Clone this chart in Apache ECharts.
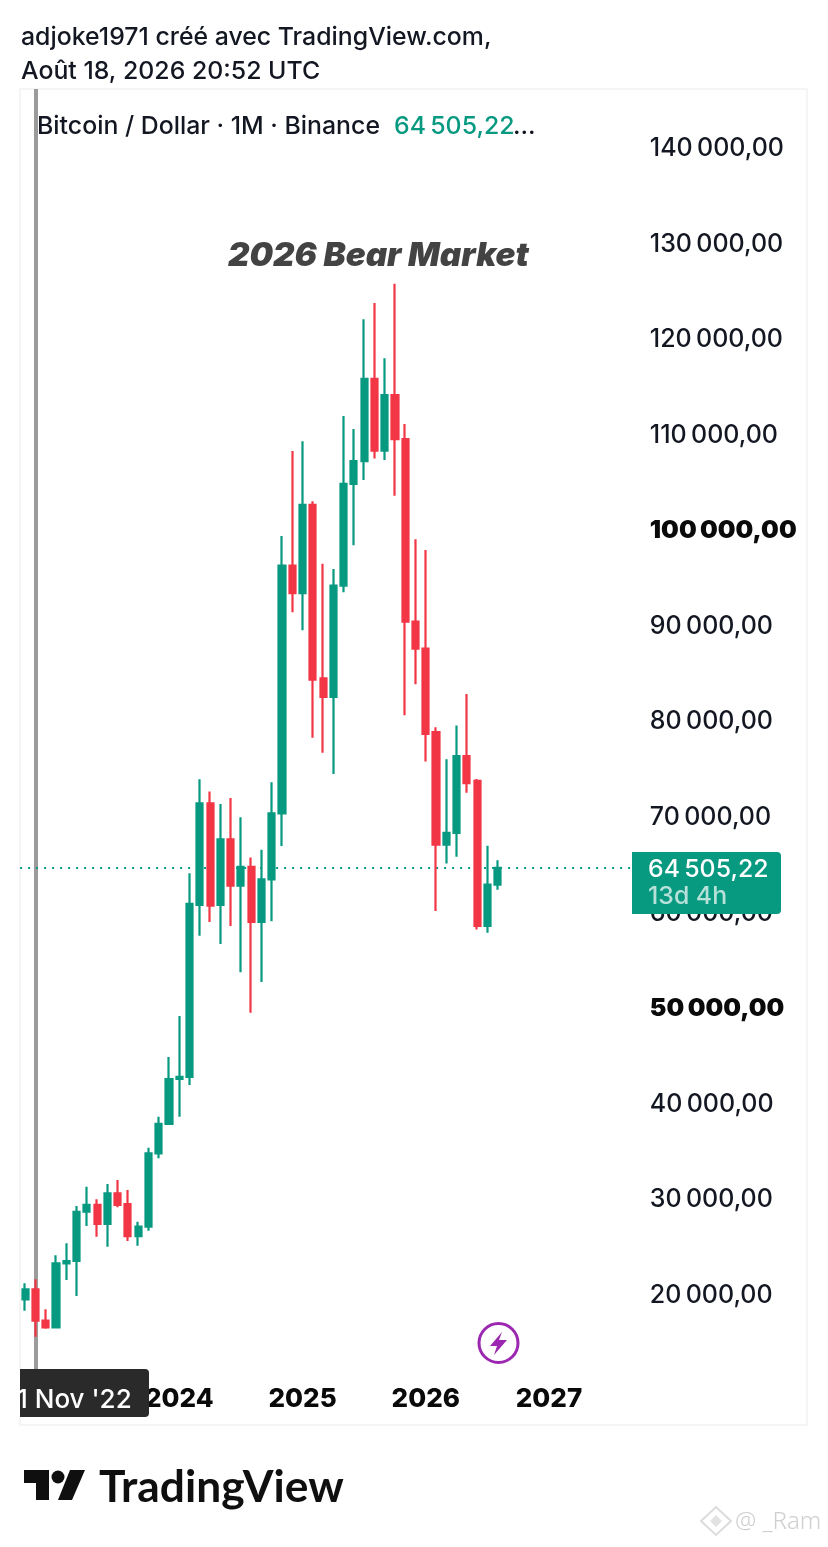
<!DOCTYPE html>
<html><head><meta charset="utf-8">
<style>html,body{margin:0;padding:0;background:#fff}#c{width:828px;height:1547px}</style>
<script src="https://cdn.jsdelivr.net/npm/echarts@6/dist/echarts.min.js"></script>
</head><body><div id="c"></div>
<script>
const categories = ['2022-10','2022-11','2022-12',
'2023-01','2023-02','2023-03','2023-04','2023-05','2023-06','2023-07','2023-08','2023-09','2023-10','2023-11','2023-12',
'2024-01','2024-02','2024-03','2024-04','2024-05','2024-06','2024-07','2024-08','2024-09','2024-10','2024-11','2024-12',
'2025-01','2025-02','2025-03','2025-04','2025-05','2025-06','2025-07','2025-08','2025-09','2025-10','2025-11','2025-12',
'2026-01','2026-02','2026-03','2026-04','2026-05','2026-06','2026-07','2026-08','2026-09','2026-10','2026-11','2026-12',
'2027-01','2027-02','2027-03','2027-04','2027-05','2027-06','2027-07','2027-08','2027-09'];
const opens = [19340,20390,17100,16410,23110,23350,28510,29220,27230,30440,29320,25940,26940,34630,37700,
42410,42620,60640,71280,60640,67510,62650,64610,58850,63320,70230,96160,
93270,102520,84370,82410,94070,104720,107100,115710,108210,114010,109400,90300,
87470,78720,66950,68170,76230,73620,58430,62760];
const closes = [20390,17100,16410,23110,23350,28510,29220,27230,30440,29220,25940,26940,34630,37700,42410,
42620,60740,71280,60560,67510,62650,64610,58850,63320,70230,96160,93270,
102520,84230,82410,94070,104720,107100,115710,108210,114010,109400,90300,87470,
78540,66950,68170,76230,73380,58430,62760,64505.22];
const lows = [18150,15420,16260,16400,21360,19690,27020,25900,24850,28970,25450,24950,26520,34110,37600,
38460,41780,57420,58850,56550,58430,53580,49350,52570,58920,66810,91280,
89400,78150,76580,74350,93380,98300,105140,107370,107230,103490,80500,83740,
75640,60000,64960,65690,72390,58050,57730,62230];
const highs = [21020,21440,18290,23950,25200,29110,31130,29810,31410,31830,30790,27470,35220,38460,44710,
49010,63950,73800,72500,71210,71840,69820,65590,66420,73480,99270,108170,
109190,102910,96370,95820,111840,110480,121970,123670,117880,125690,111000,98930,
97810,79240,75890,79410,82730,73830,66840,65310];
const yearTicks = {'2024-01':'2024','2025-01':'2025','2026-01':'2026','2027-01':'2027'};
const boldPrices = [50000,100000];
const lastPrice = 64505.22;
const crosshairMonth = '2022-11';

const UP='#089981', DOWN='#F23645', INK='#131722';
const FONT='Inter, "Noto Sans", sans-serif';
const fmt = v => String(v).replace(/\B(?=(\d{3})+$)/g,'\u2009') + ',00';
const chart = echarts.init(document.getElementById('c'),null,{renderer:'canvas'});
const txt=(x,y,s,o={})=>({type:'text',x,y,z:o.z||50,style:Object.assign({text:s,fill:INK,font:'500 24.85px '+FONT,textVerticalAlign:'middle',textBaseline:'middle'},o.style||{})});
chart.setOption({
 animation:false,backgroundColor:'#fff',
 grid:{left:20.1,width:616.2,top:89,height:1299.5,containLabel:false},
 xAxis:{type:'category',data:categories,boundaryGap:true,
  axisLine:{show:false},axisTick:{show:false},splitLine:{show:false},
  axisLabel:{interval:(i,v)=>v in yearTicks,formatter:v=>yearTicks[v]||'',color:'#0a0a0a',fontFamily:FONT,fontWeight:800,fontSize:26,margin:0,verticalAlign:'top',padding:[-2,0,0,0],hideOverlap:false}},
 yAxis:{type:'value',position:'right',min:10000,max:146070,interval:10000,
  axisLine:{show:false},axisTick:{show:false},splitLine:{show:false},
  axisLabel:{showMinLabel:false,showMaxLabel:false,margin:13.5,align:'left',verticalAlign:'middle',padding:[4,0,0,0],color:INK,fontFamily:FONT,fontSize:25,fontWeight:500,
   formatter:v=>boldPrices.includes(v)?'{b|'+fmt(v)+'}':fmt(v),
   rich:{b:{fontFamily:FONT,fontSize:25,fontWeight:900,color:'#0a0a0a'}}}},
 series:[
 {type:'line',z:1,data:[],showSymbol:false,
  markLine:{silent:true,symbol:'none',animation:false,label:{show:false},data:[
   {xAxis:crosshairMonth,lineStyle:{color:'#9b9b9b',type:'solid',width:4}}
  ]}},
 {type:'candlestick',z:5,barWidth:6.6,clip:true,
  data:opens.map((o,i)=>[o,closes[i],lows[i],highs[i]]),
  itemStyle:{color:UP,color0:DOWN,borderColor:UP,borderColor0:DOWN,borderWidth:2.2},
  markLine:{silent:true,symbol:'none',animation:false,label:{show:false},data:[
   {yAxis:lastPrice,lineStyle:{color:UP,type:[2,6],width:2}}
  ]}}],
 graphic:[
  {type:'rect',z:0,silent:true,shape:{x:20,y:89,width:787,height:1336},style:{fill:'none',stroke:'#f2f2f2',lineWidth:1.5}},
  txt(21,38,'adjoke1971 créé avec TradingView.com,'),
  txt(21,72,'Août 18, 2026 20:52 UTC'),
  txt(37,127,'Bitcoin / Dollar · 1M · Binance'),
  txt(394,127,'64\u2009505,22',{style:{fill:UP}}),
  txt(513,127,'...'),
  txt(228,256,'2026 Bear Market',{style:{fill:'#434343',font:'italic 900 33.2px '+FONT}}),
  {type:'rect',z:60,shape:{x:632,y:852,width:149,height:62,r:[0,4,4,0]},style:{fill:UP}},
  txt(648,870,'64\u2009505,22',{z:61,style:{fill:'#fff'}}),
  txt(648,897,'13d 4h',{z:61,style:{fill:'rgba(255,255,255,0.7)'}}),
  {type:'rect',z:60,shape:{x:20,y:1369,width:129,height:48,r:[0,4,4,0]},style:{fill:'#2a2a2a'}},
  txt(17,1400,"1 Nov '22",{z:61,style:{fill:'#fff',font:'500 26px '+FONT}}),
  {type:'rect',z:62,shape:{x:0,y:1369,width:20,height:48},style:{fill:'#fff'}},
  {type:'circle',z:40,shape:{cx:498.5,cy:1343,r:19.5},style:{fill:'#fff',stroke:'#9c27b0',lineWidth:3}},
  {type:'polygon',z:41,shape:{points:[[502,1332],[490,1346],[497,1346],[494,1355],[507,1340],[499,1340]]},style:{fill:'#9c27b0'}},
  {type:'polygon',z:40,shape:{points:[[24,1470],[49,1470],[49,1500],[36,1500],[36,1483],[24,1483]]},style:{fill:'#0f0f0f'}},
  {type:'circle',z:40,shape:{cx:58,cy:1477,r:6.5},style:{fill:'#0f0f0f'}},
  {type:'polygon',z:40,shape:{points:[[70,1470],[85,1470],[72,1500],[58,1500]]},style:{fill:'#0f0f0f'}},
  txt(99,1488,'TradingView',{style:{fill:'#0f0f0f',font:'700 44.3px Lato, '+FONT}}),
  {type:'polygon',z:40,shape:{points:[[716,1507],[731,1521],[716,1535],[701,1521]]},style:{fill:'none',stroke:'#dcdcdc',lineWidth:2}},
  {type:'polygon',z:40,shape:{points:[[716,1515],[722,1521],[716,1527],[710,1521]]},style:{fill:'#e2e2e2'}},
  txt(735,1522,'@ _Ram',{style:{fill:'#cfcfcf',font:'300 24px "Noto Sans", sans-serif'}})
 ]
});
</script></body></html>
